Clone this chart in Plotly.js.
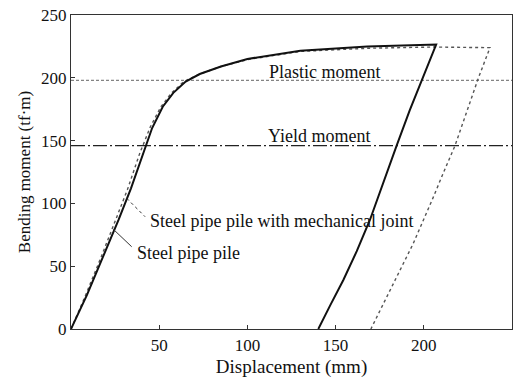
<!DOCTYPE html>
<html>
<head>
<meta charset="utf-8">
<script src="https://cdn.plot.ly/plotly-3.0.1.min.js"></script>
<style>html,body{margin:0;padding:0;background:#fff;}#chart{width:523px;height:378px;}</style>
</head>
<body>
<div id="chart"></div>
<script>
// Steel pipe pile (solid)
var pipeX = [0, 9, 18, 27, 34, 41, 46, 52, 58, 65, 73, 85, 100, 130, 168, 207, 200, 192, 184.6, 177, 169.5, 162, 154.4, 147, 140.2];
var pipeY = [0, 27, 57, 87, 112, 140, 160, 177, 188, 197, 203, 209, 215, 221.5, 225, 226.5, 202, 174, 146, 116, 87, 62, 39, 19, 0];
// Steel pipe pile with mechanical joint (dotted)
var jointX = [0, 8, 17, 25, 32, 39, 45, 51, 57, 64, 73, 85, 100, 130, 168, 205, 237.5, 231, 224, 217.7, 211, 205.4, 194, 180.8, 171.4, 170];
var jointY = [0, 26, 57, 86, 111, 140, 161, 177, 188, 197, 203, 209, 214.5, 221, 223.5, 224.5, 224, 200, 172, 146, 124, 105, 68, 31, 4.5, 0];
var plasticMoment = 198;
var yieldMoment = 146;
var xRange = [0, 250];
var xTicks = [50, 100, 150, 200, 250];
var yTicks = [0, 50, 100, 150, 200, 250];

var F = '"Liberation Serif", "Times New Roman", serif';
var traces = [
  {x: xRange, y: [plasticMoment, plasticMoment], mode: 'lines', line: {color: '#666', width: 1, dash: '3px,2px'}, hoverinfo: 'skip'},
  {x: xRange, y: [yieldMoment, yieldMoment], mode: 'lines', line: {color: '#222', width: 1.3, dash: '14px,3px,2px,3px'}, hoverinfo: 'skip'},
  {x: jointX, y: jointY, mode: 'lines', line: {color: '#555', width: 1.4, dash: 'dot'}, name: 'Steel pipe pile with mechanical joint'},
  {x: pipeX, y: pipeY, mode: 'lines', line: {color: '#111', width: 2}, name: 'Steel pipe pile'}
];
var layout = {
  width: 523, height: 378,
  margin: {l: 71, r: 11, t: 15, b: 49},
  showlegend: false,
  paper_bgcolor: '#fff', plot_bgcolor: '#fff',
  font: {family: F, color: '#111', size: 17},
  xaxis: {range: xRange, tickvals: xTicks, ticks: 'inside', ticklen: 4, tickcolor: '#333',
    showline: true, linecolor: '#333', linewidth: 1.2, mirror: true, showgrid: false, zeroline: false,
    tickfont: {family: F, size: 17, color: '#111'},
    title: {text: 'Displacement (mm)', font: {family: F, size: 19, color: '#111'}, standoff: 6}},
  yaxis: {range: [0, 250], tickvals: yTicks, ticks: 'inside', ticklen: 4, tickcolor: '#333',
    showline: true, linecolor: '#333', linewidth: 1.2, mirror: true, showgrid: false, zeroline: false,
    tickfont: {family: F, size: 17, color: '#111'},
    title: {text: 'Bending moment (tf·m)', font: {family: F, size: 17, color: '#111'}, standoff: 6}},
  shapes: [
    {type: 'line', xref: 'x', yref: 'y', x0: 31.6, y0: 104, x1: 42, y1: 89.4, line: {color: '#333', width: 1, dash: 'dot'}},
    {type: 'line', xref: 'x', yref: 'y', x0: 24, y0: 79.4, x1: 34.4, y1: 65.5, line: {color: '#333', width: 1}}
  ],
  annotations: [
    {x: 144, y: 205, xref: 'x', yref: 'y', text: 'Plastic moment', showarrow: false, font: {family: F, size: 18, color: '#111'}},
    {x: 141, y: 153.7, xref: 'x', yref: 'y', text: 'Yield moment', showarrow: false, font: {family: F, size: 18, color: '#111'}},
    {x: 43.6, y: 86.2, xref: 'x', yref: 'y', xanchor: 'left', text: 'Steel pipe pile with mechanical joint', showarrow: false, font: {family: F, size: 18, color: '#111'}},
    {x: 36.3, y: 60.3, xref: 'x', yref: 'y', xanchor: 'left', text: 'Steel pipe pile', showarrow: false, font: {family: F, size: 18, color: '#111'}}
  ]
};
Plotly.newPlot('chart', traces, layout, {displayModeBar: false, staticPlot: true});
</script>
</body>
</html>
